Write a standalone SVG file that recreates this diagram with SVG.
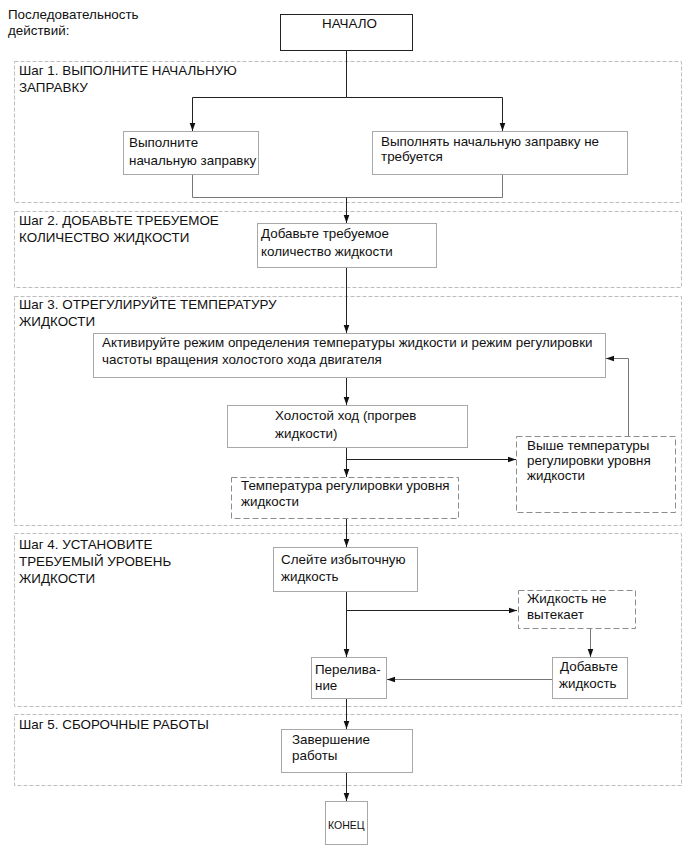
<svg xmlns="http://www.w3.org/2000/svg" width="691" height="854" viewBox="0 0 691 854">
<defs>
<marker id="ah" viewBox="0 0 10 10" refX="10" refY="5" markerWidth="8" markerHeight="8" markerUnits="userSpaceOnUse" orient="auto">
<path d="M0,1.5 L10,5 L0,8.5 Z" fill="#111"/>
</marker>
<style>
text{font-family:"Liberation Sans",Arial,sans-serif;font-size:13.4px;fill:#111}
.frame{fill:none;stroke:#bdbdbd;stroke-width:1;stroke-dasharray:4,2}
.box{fill:#fff;stroke:#a8a8a8;stroke-width:1}
.dbox{fill:#fff;stroke:#8c8c8c;stroke-width:1;stroke-dasharray:6,3}
.sbox{fill:#fff;stroke:#222;stroke-width:1}
.c{fill:none;stroke:#222;stroke-width:1}
.cg{fill:none;stroke:#777;stroke-width:1}
</style>
</defs>
<rect width="691" height="854" fill="#fff"/>
<g id="title">
<text x="8" y="19">Последовательность</text>
<text x="8" y="35">действий:</text>
</g>
<g id="frames">
<rect class="frame" x="14.5" y="61.5" width="667" height="141"/>
<rect class="frame" x="14.5" y="211.5" width="667" height="76"/>
<rect class="frame" x="14.5" y="296.5" width="667" height="229"/>
<rect class="frame" x="14.5" y="533.5" width="667" height="173"/>
<rect class="frame" x="14.5" y="714.5" width="667" height="71"/>
<text x="19" y="75">Шаг 1. ВЫПОЛНИТЕ НАЧАЛЬНУЮ</text>
<text x="19" y="92">ЗАПРАВКУ</text>
<text x="19" y="225">Шаг 2. ДОБАВЬТЕ ТРЕБУЕМОЕ</text>
<text x="19" y="242">КОЛИЧЕСТВО ЖИДКОСТИ</text>
<text x="19" y="309">Шаг 3. ОТРЕГУЛИРУЙТЕ ТЕМПЕРАТУРУ</text>
<text x="19" y="326">ЖИДКОСТИ</text>
<text x="19" y="549">Шаг 4. УСТАНОВИТЕ</text>
<text x="19" y="566">ТРЕБУЕМЫЙ УРОВЕНЬ</text>
<text x="19" y="583">ЖИДКОСТИ</text>
<text x="19" y="729">Шаг 5. СБОРОЧНЫЕ РАБОТЫ</text>
</g>
<g id="connectors">
<path class="c" d="M346.5,51 V97.5 H192.5 V131" marker-end="url(#ah)"/>
<path class="c" d="M346.5,97.5 H502.5 V131" marker-end="url(#ah)"/>
<path class="cg" d="M192.5,175 V197.5 H502.5 V175"/>
<path class="c" d="M346.5,197.5 V223" marker-end="url(#ah)"/>
<path class="c" d="M346.5,268 V333" marker-end="url(#ah)"/>
<path class="c" d="M346.5,378 V405" marker-end="url(#ah)"/>
<path class="c" d="M346.5,448 V477" marker-end="url(#ah)"/>
<path class="c" d="M346.5,459.5 H516" marker-end="url(#ah)"/>
<path class="cg" d="M628.5,436 V358.5 H606" marker-end="url(#ah)"/>
<path class="c" d="M346.5,519 V547" marker-end="url(#ah)"/>
<path class="c" d="M346.5,592 V657" marker-end="url(#ah)"/>
<path class="c" d="M346.5,610.5 H517" marker-end="url(#ah)"/>
<path class="cg" d="M590.5,628 V657" marker-end="url(#ah)"/>
<path class="cg" d="M552,679.5 H387" marker-end="url(#ah)"/>
<path class="c" d="M346.5,699 V729" marker-end="url(#ah)"/>
<path class="c" d="M346.5,773 V801" marker-end="url(#ah)"/>
</g>
<g id="n-start">
<rect class="sbox" x="280.5" y="14.5" width="132" height="36"/>
<text x="322" y="28">НАЧАЛО</text>
</g>
<g id="n-fill">
<rect class="box" x="123.5" y="131.5" width="135" height="43"/>
<text x="129" y="147">Выполните</text>
<text x="129" y="165">начальную заправку</text>
</g>
<g id="n-nofill">
<rect class="box" x="372.5" y="131.5" width="255" height="43"/>
<text x="381" y="146">Выполнять начальную заправку не</text>
<text x="381" y="161">требуется</text>
</g>
<g id="n-add">
<rect class="box" x="257.5" y="223.5" width="179" height="44"/>
<text x="261" y="238">Добавьте требуемое</text>
<text x="261" y="256">количество жидкости</text>
</g>
<g id="n-activate">
<rect class="box" x="93.5" y="333.5" width="512" height="44"/>
<text x="102" y="347">Активируйте режим определения температуры жидкости и режим регулировки</text>
<text x="102" y="364">частоты вращения холостого хода двигателя</text>
</g>
<g id="n-idle">
<rect class="box" x="227.5" y="405.5" width="240" height="42"/>
<text x="275" y="420">Холостой ход (прогрев</text>
<text x="275" y="438">жидкости)</text>
</g>
<g id="n-temp">
<rect class="dbox" x="231.5" y="477.5" width="227" height="41"/>
<text x="241" y="490">Температура регулировки уровня</text>
<text x="241" y="506">жидкости</text>
</g>
<g id="n-above">
<rect class="dbox" x="516.5" y="436.5" width="159" height="76"/>
<text x="527" y="450">Выше температуры</text>
<text x="527" y="465">регулировки уровня</text>
<text x="527" y="480">жидкости</text>
</g>
<g id="n-drain">
<rect class="box" x="273.5" y="547.5" width="144" height="44"/>
<text x="281" y="564">Слейте избыточную</text>
<text x="281" y="581">жидкость</text>
</g>
<g id="n-noleak">
<rect class="dbox" x="518.5" y="590.5" width="117" height="38"/>
<text x="527" y="603">Жидкость не</text>
<text x="527" y="619">вытекает</text>
</g>
<g id="n-addfluid">
<rect class="box" x="552.5" y="657.5" width="75" height="41"/>
<text x="560" y="671">Добавьте</text>
<text x="559" y="688">жидкость</text>
</g>
<g id="n-overflow">
<rect class="box" x="311.5" y="657.5" width="75" height="41"/>
<text x="315" y="674">Перелива-</text>
<text x="315" y="690">ние</text>
</g>
<g id="n-finish">
<rect class="box" x="281.5" y="729.5" width="131" height="43"/>
<text x="292" y="744">Завершение</text>
<text x="292" y="760">работы</text>
</g>
<g id="n-end">
<rect class="box" x="325.5" y="801.5" width="42" height="43"/>
<text x="328" y="829" style="font-size:10.5px">КОНЕЦ</text>
</g>
</svg>
